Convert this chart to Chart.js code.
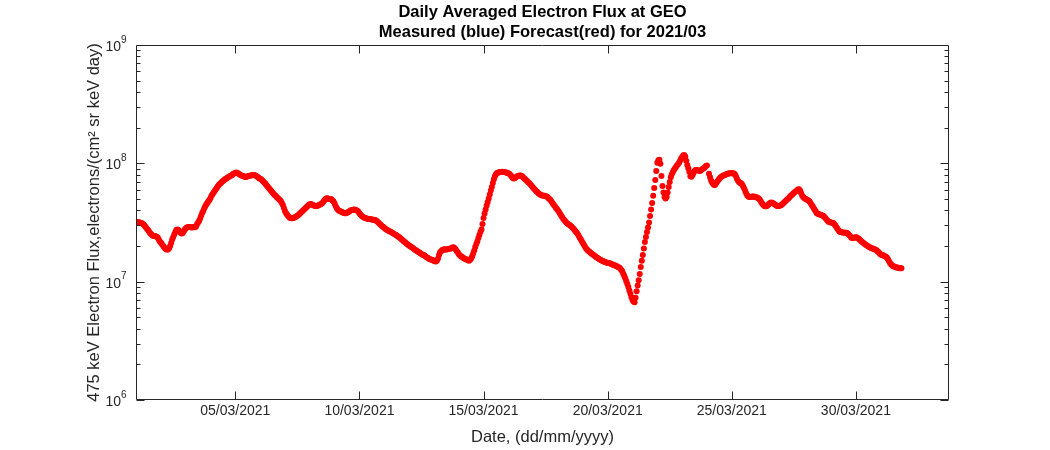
<!DOCTYPE html>
<html>
<head>
<meta charset="utf-8">
<title>Daily Averaged Electron Flux at GEO</title>
<script src="https://cdn.jsdelivr.net/npm/chart.js@4.4.1/dist/chart.umd.min.js"></script>
<style>
  html, body { margin: 0; padding: 0; background: #fff; }
  canvas { display: block; }
</style>
</head>
<body>
<canvas id="fluxChart" width="1050" height="450"></canvas>
<script>
// hourly 475 keV flux for March 2021, in units of 1e7 (one row per day, 00h..23h)
var fluxUnit = 1e7;
var flux = [
  [3.19,3.18,3.18,3.17,3.15,3.13,3.1,3.05,3.0,2.93,2.84,2.77,2.7,2.62,2.55,2.5,2.45,2.43,2.43,2.42,2.4,2.36,2.27,2.18], // 01/03
  [2.14,2.08,2.02,1.96,1.92,1.88,1.87,1.87,1.92,2.0,2.12,2.27,2.39,2.5,2.63,2.73,2.76,2.73,2.68,2.6,2.55,2.57,2.65,2.73],
  [2.81,2.87,2.88,2.9,2.9,2.88,2.87,2.88,2.9,2.88,2.92,3.05,3.16,3.25,3.42,3.63,3.8,3.96,4.18,4.33,4.5,4.63,4.77,4.89],
  [5.1,5.31,5.48,5.67,5.85,6.02,6.2,6.37,6.57,6.7,6.83,6.96,7.1,7.2,7.33,7.4,7.5,7.63,7.7,7.8,7.88,7.98,8.15,8.22],
  [8.3,8.35,8.3,8.22,8.1,7.98,7.9,7.83,7.76,7.7,7.65,7.7,7.76,7.83,7.86,7.9,7.93,7.98,7.98,7.93,7.83,7.73,7.63,7.48], // 05/03
  [7.4,7.33,7.2,7.03,6.9,6.74,6.57,6.4,6.26,6.1,5.96,5.81,5.67,5.53,5.41,5.31,5.2,5.1,5.0,4.91,4.81,4.63,4.45,4.2],
  [3.96,3.8,3.69,3.59,3.52,3.45,3.43,3.43,3.45,3.48,3.52,3.55,3.6,3.66,3.73,3.8,3.88,3.96,4.04,4.12,4.2,4.28,4.36,4.45],
  [4.5,4.53,4.49,4.45,4.4,4.36,4.36,4.36,4.4,4.45,4.49,4.53,4.6,4.72,4.86,4.96,5.05,5.07,5.02,5.0,4.98,4.96,4.86,4.75],
  [4.58,4.36,4.2,4.07,4.0,3.96,3.92,3.88,3.84,3.8,3.78,3.79,3.82,3.86,3.92,3.97,4.02,4.04,4.06,4.07,4.05,4.01,3.97,3.9],
  [3.78,3.69,3.61,3.55,3.5,3.46,3.44,3.42,3.4,3.39,3.38,3.37,3.35,3.34,3.34,3.32,3.29,3.24,3.18,3.11,3.06,3.0,2.94,2.9], // 10/03
  [2.85,2.8,2.76,2.73,2.69,2.67,2.64,2.61,2.58,2.55,2.52,2.49,2.46,2.42,2.39,2.36,2.31,2.27,2.23,2.19,2.16,2.12,2.08,2.05],
  [2.02,1.99,1.96,1.94,1.92,1.88,1.85,1.83,1.81,1.78,1.76,1.74,1.71,1.69,1.68,1.66,1.63,1.61,1.59,1.57,1.55,1.54,1.53,1.52],
  [1.5,1.49,1.48,1.51,1.57,1.68,1.77,1.81,1.85,1.86,1.88,1.87,1.87,1.88,1.89,1.9,1.91,1.92,1.94,1.95,1.92,1.88,1.82,1.77],
  [1.71,1.67,1.64,1.62,1.59,1.58,1.56,1.55,1.53,1.52,1.5,1.53,1.57,1.64,1.73,1.83,1.96,2.08,2.19,2.34,2.48,2.63,2.76,3.07],
  [3.45,3.76,4.07,4.4,4.72,5.05,5.46,5.9,6.32,6.83,7.33,7.76,8.07,8.27,8.34,8.39,8.43,8.46,8.5,8.46,8.43,8.4,8.37,8.3], // 15/03
  [8.25,8.15,7.98,7.76,7.55,7.43,7.48,7.58,7.7,7.8,7.86,7.9,7.89,7.8,7.66,7.52,7.37,7.24,7.1,6.96,6.83,6.7,6.54,6.37],
  [6.22,6.08,5.94,5.8,5.71,5.59,5.5,5.42,5.38,5.35,5.33,5.31,5.28,5.24,5.16,5.05,4.96,4.84,4.72,4.58,4.45,4.33,4.2,4.12],
  [4.0,3.88,3.74,3.63,3.52,3.4,3.32,3.24,3.16,3.1,3.05,3.02,2.97,2.92,2.86,2.8,2.73,2.66,2.6,2.53,2.44,2.35,2.28,2.2],
  [2.12,2.05,1.98,1.92,1.87,1.83,1.8,1.77,1.74,1.71,1.69,1.66,1.64,1.61,1.59,1.57,1.55,1.53,1.51,1.5,1.48,1.47,1.46,1.45],
  [1.44,1.44,1.43,1.42,1.41,1.39,1.38,1.37,1.36,1.34,1.33,1.32,1.3,1.26,1.23,1.17,1.12,1.07,1.01,0.955,0.9,0.84,0.79,0.74], // 20/03
  [0.7,0.68,0.67,0.73,0.83,0.93,1.03,1.16,1.33,1.5,1.68,1.91,2.16,2.38,2.63,2.87,3.16,3.59,4.07,4.63,5.31,6.2,7.24,8.62],
  [10.1,10.6,10.7,9.9,7.83,6.44,5.67,5.2,5.05,5.2,5.67,6.32,6.96,7.63,8.07,8.45,8.79,9.05,9.33,9.6,9.84,10.1,10.5,11.0],
  [11.3,11.65,11.75,11.4,10.5,9.68,9.1,8.45,7.76,7.7,7.98,8.3,8.62,8.79,8.79,8.74,8.65,8.62,8.7,8.87,9.0,9.1,9.27,9.5],
  [9.6,null,8.15,7.63,7.17,6.9,6.7,6.57,6.6,6.83,7.03,7.24,7.42,7.58,7.7,7.8,7.88,7.95,8.02,8.11,8.17,8.22,8.25,8.26],
  [8.26,8.25,8.22,8.07,7.76,7.4,7.13,6.96,6.83,6.77,6.63,6.37,6.14,5.85,5.55,5.35,5.24,5.2,5.2,5.23,5.25,5.24,5.23,5.2], // 25/03
  [5.16,5.1,5.05,4.94,4.77,4.63,4.49,4.4,4.33,4.33,4.36,4.45,4.53,4.61,4.66,4.65,4.6,4.53,4.46,4.4,4.36,4.36,4.38,4.4],
  [4.45,4.53,4.63,4.72,4.8,4.89,4.99,5.08,5.2,5.33,5.41,5.5,5.62,5.71,5.81,5.9,6.0,6.03,5.9,5.62,5.35,5.2,5.1,5.02],
  [4.97,4.93,4.86,4.77,4.65,4.49,4.36,4.21,4.07,3.96,3.8,3.75,3.72,3.69,3.67,3.64,3.6,3.57,3.49,3.4,3.32,3.24,3.19,3.17],
  [3.16,3.15,3.13,3.07,2.99,2.9,2.81,2.73,2.66,2.63,2.61,2.6,2.6,2.59,2.59,2.59,2.55,2.5,2.46,2.39,2.34,2.34,2.35,2.36],
  [2.37,2.36,2.33,2.29,2.25,2.21,2.16,2.13,2.1,2.06,2.04,2.01,1.98,1.96,1.94,1.92,1.91,1.9,1.88,1.86,1.84,1.8,1.77,1.73], // 30/03
  [1.7,1.68,1.67,1.66,1.64,1.62,1.59,1.55,1.49,1.44,1.4,1.37,1.35,1.34,1.33,1.32,1.32,1.31,1.3,1.3,1.3]
];

// x axis is in days since 01/03/2021 00:00
var xMaxDays = 32.75;
var xTickDays = [4, 9, 14, 19, 24, 29];
var xTickLabels = ['05/03/2021', '10/03/2021', '15/03/2021', '20/03/2021', '25/03/2021', '30/03/2021'];
var yTickExponents = [6, 7, 8, 9];

var points = [];
for (var d = 0; d < flux.length; d++) {
    for (var h = 0; h < flux[d].length; h++) {
        var v = flux[d][h];
        points.push({ x: d + h / 24, y: v === null ? null : v * fluxUnit });
    }
}

var fontFamily = '"Liberation Sans", Arial, Helvetica, sans-serif';
var axisColor = '#262626';

// matlab style box: ticks pointing inwards on all four sides, 10^n labels
var matlabAxes = {
    id: 'matlabAxes',
    afterDraw: function (chart) {
        var ctx = chart.ctx;
        var a = chart.chartArea;
        var xs = chart.scales.x;
        var ys = chart.scales.y;
        var L = Math.round(a.left) + 0.5, R = Math.round(a.right) - 0.5;
        var T = Math.round(a.top) + 0.5, B = Math.round(a.bottom) - 0.5;

        ctx.save();
        ctx.strokeStyle = axisColor;
        ctx.lineWidth = 1;
        ctx.beginPath();
        ctx.rect(L, T, R - L, B - T);

        xTickDays.forEach(function (day) {
            var px = Math.round(xs.getPixelForValue(day)) + 0.5;
            ctx.moveTo(px, B); ctx.lineTo(px, B - 8);
            ctx.moveTo(px, T); ctx.lineTo(px, T + 8);
        });

        for (var e = yTickExponents[0]; e < yTickExponents[yTickExponents.length - 1]; e++) {
            for (var m = 1; m <= 9; m++) {
                var py = Math.round(ys.getPixelForValue(m * Math.pow(10, e))) + 0.5;
                var len = m === 1 ? 8 : 4;
                ctx.moveTo(L, py); ctx.lineTo(L + len, py);
                ctx.moveTo(R, py); ctx.lineTo(R - len, py);
            }
        }
        ctx.stroke();

        ctx.fillStyle = axisColor;
        ctx.textBaseline = 'middle';
        yTickExponents.forEach(function (e) {
            var py = ys.getPixelForValue(Math.pow(10, e));
            ctx.font = '14px ' + fontFamily;
            ctx.textAlign = 'right';
            ctx.fillText('10', L - 15.5, py + 2);
            ctx.font = '10px ' + fontFamily;
            ctx.textAlign = 'left';
            ctx.fillText(String(e), L - 15.5, py - 5);
        });
        ctx.restore();
    }
};

var ctx = document.getElementById('fluxChart').getContext('2d');
var fluxChart = new Chart(ctx, {
    type: 'scatter',
    data: {
        datasets: [{
            label: 'Forecast',
            data: points,
            pointRadius: 3,
            pointBackgroundColor: '#ff0000',
            pointBorderWidth: 0,
            showLine: false
        }]
    },
    options: {
        responsive: false,
        animation: false,
        layout: { padding: { left: 0, right: 101, top: 0, bottom: 0 } },
        plugins: {
            legend: { display: false },
            tooltip: { enabled: false },
            title: {
                display: true,
                fullSize: false,
                text: ['Daily Averaged Electron Flux at GEO', 'Measured (blue) Forecast(red) for 2021/03'],
                color: '#000',
                font: { family: fontFamily, size: 16.5, weight: 'bold', lineHeight: 1.236 },
                padding: { top: 2, bottom: 2.2 }
            }
        },
        scales: {
            x: {
                type: 'linear',
                position: 'bottom',
                min: 0,
                max: xMaxDays,
                grid: { display: false, drawTicks: false },
                border: { display: false },
                afterBuildTicks: function (scale) {
                    scale.ticks = xTickDays.map(function (v) { return { value: v }; });
                },
                afterFit: function (scale) { scale.height = 50; },
                ticks: {
                    autoSkip: false,
                    maxRotation: 0,
                    padding: 3,
                    color: axisColor,
                    font: { family: fontFamily, size: 14 },
                    callback: function (value, index) { return xTickLabels[index]; }
                },
                title: {
                    display: true,
                    text: 'Date, (dd/mm/yyyy)',
                    color: axisColor,
                    font: { family: fontFamily, size: 16.5 },
                    padding: { top: 0, bottom: 3 }
                }
            },
            y: {
                type: 'logarithmic',
                position: 'left',
                min: 1e6,
                max: 1e9,
                grid: { display: false, drawTicks: false },
                border: { display: false },
                ticks: { display: false },
                afterFit: function (scale) { scale.width = 136; },
                title: {
                    display: true,
                    text: '475 keV Electron Flux,electrons/(cm\u00B2 sr keV day)',
                    color: axisColor,
                    font: { family: fontFamily, size: 16.5 },
                    padding: { top: 85, bottom: 0 }
                }
            }
        }
    },
    plugins: [matlabAxes]
});
</script>
</body>
</html>
